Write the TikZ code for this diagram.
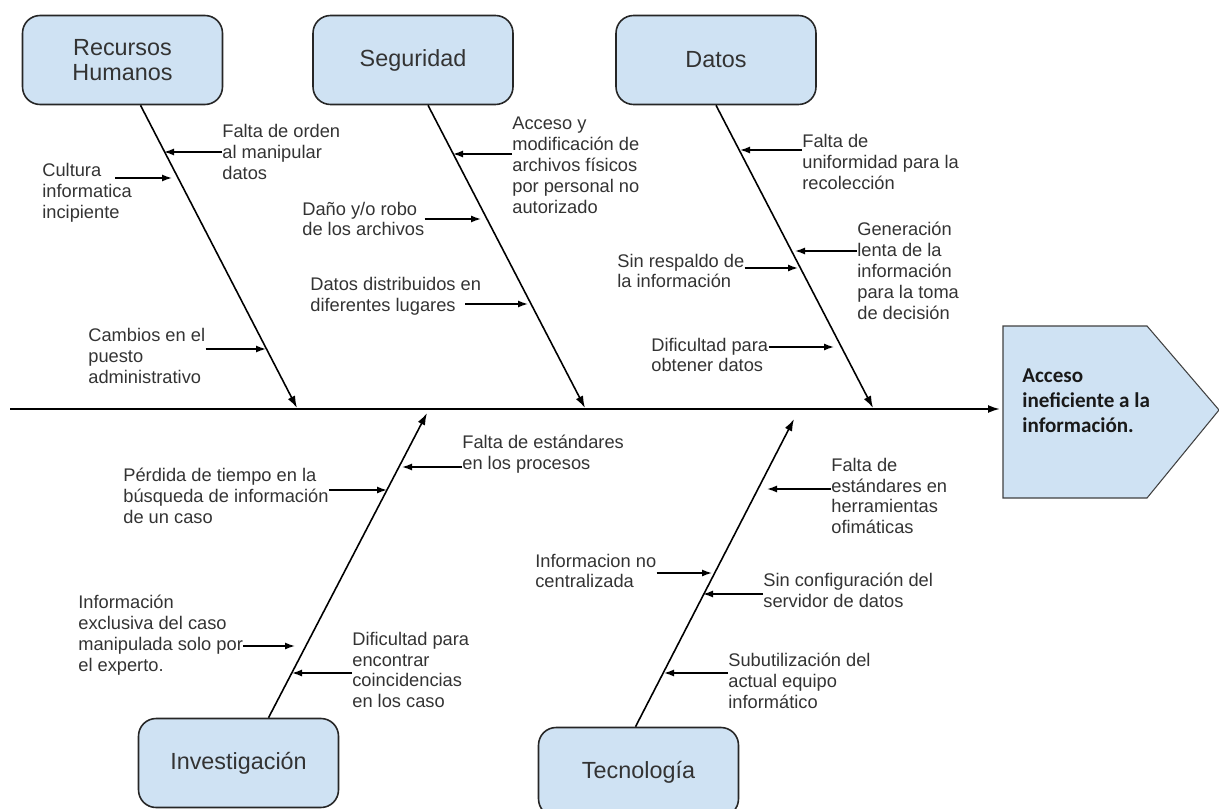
\documentclass[tikz,border=0pt]{standalone}
\usepackage{fontspec}
\setmainfont{Liberation Sans}
\newfontfamily\efectofont{Carlito}
\usetikzlibrary{arrows.meta,calc}

\definecolor{cajaazul}{RGB}{207,226,243}
\definecolor{textogris}{RGB}{51,51,51}

\tikzset{
  categoria/.style={draw=black!85, line width=0.9pt, fill=cajaazul, rounded corners=0.35cm,
    minimum width=4cm, minimum height=1.78cm, align=center, text=textogris,
    font=\fontsize{13.3}{14.5}\selectfont},
  causa/.style={anchor=west, align=left, inner sep=0pt, text=textogris,
    font=\fontsize{10.4}{11.9}\selectfont},
  efecto/.style={anchor=west, align=left, inner sep=0pt, text=black!90,
    font=\efectofont\bfseries\fontsize{12}{14.2}\selectfont},
  espina/.style={line width=0.9pt, -{Latex[length=2.4mm,width=1.6mm]}},
  flecha/.style={line width=0.8pt, -{Latex[length=2mm,width=1.4mm]}}
}

\begin{document}
\begin{tikzpicture}
\def\lenscale{0.02}
\def\x#1{#1*\lenscale}
\def\y#1{-#1*\lenscale}

\useasboundingbox (0,0) rectangle (\x{1219},\y{809});

% efecto
\draw[draw=black!75, fill=cajaazul, line width=0.6pt] (\x{1003},\y{326}) -- (\x{1147},\y{326})
  -- (\x{1219},\y{410}) -- (\x{1147},\y{498}) -- (\x{1003},\y{498}) -- cycle;
\node[efecto] (efecto) at (\x{1022},\y{401}) {Acceso\\ineficiente a la\\información.};

\coordinate (cola) at (\x{10},\y{409});
\coordinate (cabeza) at (\x{1000},\y{409});
\draw[espina, line width=1.1pt] (cola) -- (cabeza);

% categorias
\node[categoria] (rh) at (\x{122.5},\y{60}) {Recursos\\Humanos};
\node[categoria] (seg) at (\x{413},\y{60}) {Seguridad};
\node[categoria] (dat) at (\x{716},\y{60}) {Datos};
\node[categoria] (inv) at (\x{238.5},\y{763}) {Investigación};
\node[categoria] (tec) at (\x{638.5},\y{772}) {Tecnología};

\coordinate (rh-s) at (\x{297},\y{408});
\coordinate (seg-s) at (\x{585},\y{408});
\coordinate (dat-s) at (\x{873},\y{408});
\coordinate (inv-s) at (\x{427},\y{413});
\coordinate (tec-s) at (\x{794},\y{419});

\draw[espina] ($(rh.south)+(\x{18},0)$) -- (rh-s);
\draw[espina] ($(seg.south)+(\x{15},0)$) -- (seg-s);
\draw[espina] (dat.south) -- (dat-s);
\draw[espina] ($(inv.north)+(\x{30},0)$) -- (inv-s);
\draw[espina] ($(tec.north)+(\x{-3},0)$) -- (tec-s);

% recursos humanos
\node[causa] (orden) at (\x{222},\y{152}) {Falta de orden\\al manipular\\datos};
\node[causa] (cultura) at (\x{42},\y{193}) {Cultura\\informatica\\incipiente};
\node[causa] (cambios) at (\x{88},\y{356}) {Cambios en el\\puesto\\administrativo};
\coordinate (rh1) at (\x{164},\y{152});
\coordinate (rh2) at (\x{172},\y{178});
\coordinate (rh3) at (\x{266},\y{349});
\coordinate (cultura-f) at (\x{115},\y{178});
\draw[flecha] (orden.west |- rh1) -- (rh1);
\draw[flecha] (cultura-f) -- (rh2);
\draw[flecha] (cambios.east |- rh3) -- (rh3);

% seguridad
\node[causa] (acceso) at (\x{512},\y{165}) {Acceso y\\modificación de\\archivos físicos\\por personal no\\autorizado};
\node[causa] (robo) at (\x{302},\y{219}) {Daño y/o robo\\de los archivos};
\node[causa] (distrib) at (\x{310},\y{296}) {Datos distribuidos en\\diferentes lugares};
\coordinate (seg1) at (\x{453},\y{154});
\coordinate (seg2) at (\x{481},\y{219});
\coordinate (seg3) at (\x{528},\y{304});
\coordinate (distrib-f) at (\x{465},\y{304});
\draw[flecha] (acceso.west |- seg1) -- (seg1);
\draw[flecha] (robo.east |- seg2) -- (seg2);
\draw[flecha] (distrib-f) -- (seg3);

% datos
\node[causa] (uniform) at (\x{802},\y{162}) {Falta de\\uniformidad para la\\recolección};
\node[causa] (lenta) at (\x{857},\y{271}) {Generación\\lenta de la\\información\\para la toma\\de decisión};
\node[causa] (respaldo) at (\x{617},\y{271}) {Sin respaldo de\\la información};
\node[causa] (obtener) at (\x{651},\y{355}) {Dificultad para\\obtener datos};
\coordinate (dat1) at (\x{740},\y{150});
\coordinate (dat2) at (\x{795},\y{251});
\coordinate (dat3) at (\x{798},\y{268});
\coordinate (dat4) at (\x{834},\y{347});
\draw[flecha] (uniform.west |- dat1) -- (dat1);
\draw[flecha] (lenta.west |- dat2) -- (dat2);
\draw[flecha] (respaldo.east |- dat3) -- (dat3);
\draw[flecha] (obtener.east |- dat4) -- (dat4);

% investigacion
\node[causa] (perdida) at (\x{123},\y{496}) {Pérdida de tiempo en la\\búsqueda de información\\de un caso};
\node[causa] (procesos) at (\x{462},\y{454}) {Falta de estándares\\en los procesos};
\node[causa] (exclusiva) at (\x{78},\y{635}) {Información\\exclusiva del caso\\manipulada solo por\\el experto.};
\node[causa] (coinc) at (\x{352},\y{670}) {Dificultad para\\encontrar\\coincidencias\\en los caso};
\coordinate (inv1) at (\x{387},\y{490});
\coordinate (inv2) at (\x{402},\y{467});
\coordinate (inv3) at (\x{295},\y{646});
\coordinate (inv4) at (\x{292},\y{673});
\draw[flecha] (perdida.east |- inv1) -- (inv1);
\draw[flecha] (procesos.west |- inv2) -- (inv2);
\draw[flecha] (exclusiva.east |- inv3) -- (inv3);
\draw[flecha] (coinc.west |- inv4) -- (inv4);

% tecnologia
\node[causa] (ofimat) at (\x{831},\y{496}) {Falta de\\estándares en\\herramientas\\ofimáticas};
\node[causa] (centra) at (\x{535},\y{571}) {Informacion no\\centralizada};
\node[causa] (servidor) at (\x{763},\y{590}) {Sin configuración del\\servidor de datos};
\node[causa] (equipo) at (\x{728},\y{681}) {Subutilización del\\actual equipo\\informático};
\coordinate (tec1) at (\x{767},\y{489});
\coordinate (tec2) at (\x{712},\y{573});
\coordinate (tec3) at (\x{703},\y{594});
\coordinate (tec4) at (\x{664},\y{673});
\draw[flecha] (ofimat.west |- tec1) -- (tec1);
\draw[flecha] (centra.east |- tec2) -- (tec2);
\draw[flecha] (servidor.west |- tec3) -- (tec3);
\draw[flecha] (equipo.west |- tec4) -- (tec4);

\end{tikzpicture}
\end{document}
